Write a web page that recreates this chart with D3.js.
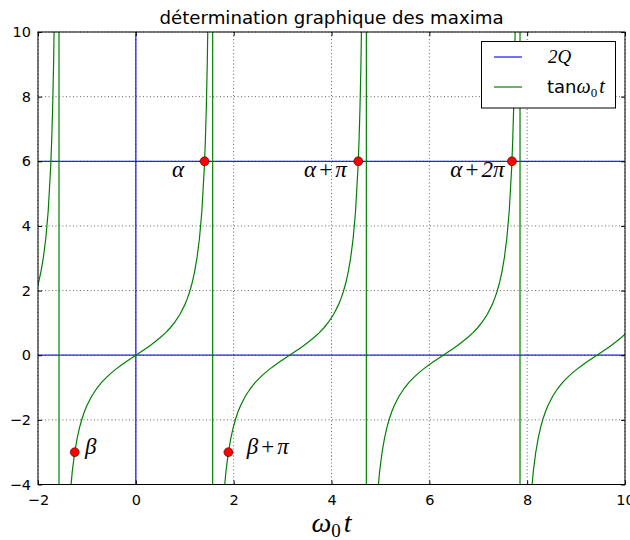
<!DOCTYPE html>
<html>
<head>
<meta charset="utf-8">
<script src="https://cdn.jsdelivr.net/npm/d3@7"></script>
<style>
  body { margin: 0; background: #fff; }
  svg { display: block; }
  .tick text { font-family: "DejaVu Sans", sans-serif; font-size: 14.5px; fill: #000; }
  .math { font-family: "Liberation Serif", "DejaVu Serif", serif; }
</style>
</head>
<body>
<svg id="chart" width="630" height="540"></svg>
<script>
// ---- data ----
var xTicks = [-2, 0, 2, 4, 6, 8, 10];
var yTicks = [-4, -2, 0, 2, 4, 6, 8, 10];

// one branch of tan, sampled around its centre (offset, value)
var branchOffset = [-1.570, -1.565, -1.56, -1.55, -1.54, -1.52, -1.50, -1.48, -1.46, -1.44, -1.42, -1.40,
  -1.35, -1.30, -1.25, -1.20, -1.15, -1.10, -1.05, -1.00, -0.90, -0.80, -0.70, -0.60, -0.50, -0.40, -0.30,
  -0.20, -0.10, 0, 0.10, 0.20, 0.30, 0.40, 0.50, 0.60, 0.70, 0.80, 0.90, 1.00, 1.05, 1.10, 1.15, 1.20,
  1.25, 1.30, 1.35, 1.40, 1.42, 1.44, 1.46, 1.48, 1.50, 1.52, 1.54, 1.55, 1.56, 1.565, 1.570];
var branchValue = [-1255.8, -172.52, -92.62, -48.08, -32.46, -19.67, -14.10, -10.98, -8.989, -7.602, -6.581, -5.798,
  -4.455, -3.602, -3.010, -2.572, -2.234, -1.965, -1.743, -1.557, -1.260, -1.030, -0.842, -0.684, -0.546, -0.423, -0.309,
  -0.203, -0.100, 0, 0.100, 0.203, 0.309, 0.423, 0.546, 0.684, 0.842, 1.030, 1.260, 1.557, 1.743, 1.965, 2.234, 2.572,
  3.010, 3.602, 4.455, 5.798, 6.581, 7.602, 8.989, 10.98, 14.10, 19.67, 32.46, 48.08, 92.62, 172.52, 1255.8];
var branchCentre = [-3.1416, 0, 3.1416, 6.2832, 9.4248];

var level2Q = 6;
var crossX = [1.4056, 4.5472, 7.6888, -1.2490, 1.8925];
var crossY = [6, 6, 6, -3, -3];

var labelText = [["α"], ["α", "+", "π"], ["α", "+", "2π"], ["β"], ["β", "+", "π"]];
var labelX = [0.74, 3.44, 6.43, -1.04, 2.27];
var labelY = [5.52, 5.52, 5.52, -3.05, -3.05];

// ---- layout ----
var svg = d3.select("#chart");
var x = d3.scaleLinear().domain([-2, 10]).range([38, 625]);
var y = d3.scaleLinear().domain([-4, 10]).range([484.5, 32]);

svg.append("defs").append("clipPath").attr("id", "plotclip")
  .append("rect")
    .attr("x", x(-2)).attr("y", y(10))
    .attr("width", x(10) - x(-2)).attr("height", y(-4) - y(10));

// grid
var grid = svg.append("g").attr("stroke", "#000").attr("stroke-width", 0.6).attr("stroke-dasharray", "1,2.5");
grid.selectAll(".gx").data(xTicks).enter().append("line")
  .attr("x1", function(d) { return x(d); }).attr("x2", function(d) { return x(d); })
  .attr("y1", y(-4)).attr("y2", y(10));
grid.selectAll(".gy").data(yTicks).enter().append("line")
  .attr("y1", function(d) { return y(d); }).attr("y2", function(d) { return y(d); })
  .attr("x1", x(-2)).attr("x2", x(10));

var plot = svg.append("g").attr("clip-path", "url(#plotclip)");

// blue lines: 2Q, y=0, x=0
var blue = plot.append("g").attr("stroke", "#0000ff").attr("stroke-width", 1.3).attr("stroke-opacity", 0.85);
blue.append("line").attr("x1", x(-2)).attr("x2", x(10)).attr("y1", y(level2Q)).attr("y2", y(level2Q));
blue.append("line").attr("x1", x(-2)).attr("x2", x(10)).attr("y1", y(0)).attr("y2", y(0));
blue.append("line").attr("x1", x(0)).attr("x2", x(0)).attr("y1", y(-4)).attr("y2", y(10));

// tan curve, all branches joined like a sampled line
var tanPoints = [];
branchCentre.forEach(function(c) {
  branchOffset.forEach(function(o, i) { tanPoints.push([c + o, branchValue[i]]); });
});
var line = d3.line().x(function(d) { return x(d[0]); }).y(function(d) { return y(d[1]); });
plot.append("path").datum(tanPoints)
  .attr("d", line).attr("fill", "none").attr("stroke", "#008000").attr("stroke-width", 1.2);

// red points
svg.selectAll(".pt").data(crossX).enter().append("circle")
  .attr("cx", function(d) { return x(d); })
  .attr("cy", function(d, i) { return y(crossY[i]); })
  .attr("r", 4.5).attr("fill", "#ff0000").attr("stroke", "#000").attr("stroke-width", 0.5);

// labels
labelText.forEach(function(parts, i) {
  var t = svg.append("text").attr("class", "math")
    .attr("x", x(labelX[i])).attr("y", y(labelY[i]))
    .attr("font-size", 23).attr("fill", "#000");
  parts.forEach(function(p, j) {
    t.append("tspan").attr("font-style", p === "+" ? "normal" : "italic")
      .attr("dx", j > 0 ? 3 : 0)
      .text(p);
  });
});

// axes, ticks inside on all four sides
function styleAxis(g) {
  g.select(".domain").remove();
  g.selectAll(".tick line").attr("stroke", "#000").attr("stroke-width", 1);
}
svg.append("g").attr("transform", "translate(0," + y(-4) + ")")
  .call(d3.axisBottom(x).tickValues(xTicks).tickSize(-4).tickPadding(10).tickFormat(d3.format("d")))
  .call(styleAxis);
svg.append("g").attr("transform", "translate(0," + y(10) + ")")
  .call(d3.axisTop(x).tickValues(xTicks).tickSize(-4).tickFormat(""))
  .call(styleAxis);
svg.append("g").attr("transform", "translate(" + x(-2) + ",0)")
  .call(d3.axisLeft(y).tickValues(yTicks).tickSize(-4).tickPadding(7).tickFormat(d3.format("d")))
  .call(styleAxis);
svg.append("g").attr("transform", "translate(" + x(10) + ",0)")
  .call(d3.axisRight(y).tickValues(yTicks).tickSize(-4).tickFormat(""))
  .call(styleAxis);

svg.append("rect")
  .attr("x", x(-2)).attr("y", y(10))
  .attr("width", x(10) - x(-2)).attr("height", y(-4) - y(10))
  .attr("fill", "none").attr("stroke", "#000").attr("stroke-width", 1);

// title
svg.append("text")
  .attr("x", (x(-2) + x(10)) / 2).attr("y", 24)
  .attr("text-anchor", "middle")
  .attr("font-family", "DejaVu Sans, sans-serif").attr("font-size", 18.2)
  .text("détermination graphique des maxima");

// x label
var xl = svg.append("text").attr("class", "math")
  .attr("x", (x(-2) + x(10)) / 2).attr("y", 532)
  .attr("text-anchor", "middle").attr("font-size", 28);
xl.append("tspan").attr("font-style", "italic").text("ω");
xl.append("tspan").attr("font-size", 19).attr("dy", 5).text("0");
xl.append("tspan").attr("font-style", "italic").attr("dy", -5).attr("dx", 3).text("t");

// legend
var leg = svg.append("g");
leg.append("rect").attr("x", 481.5).attr("y", 41.5).attr("width", 134).attr("height", 66.5)
  .attr("fill", "#fff").attr("stroke", "#000").attr("stroke-width", 1);
leg.append("line").attr("x1", 494).attr("x2", 522).attr("y1", 57).attr("y2", 57)
  .attr("stroke", "#0000ff").attr("stroke-width", 1.3).attr("stroke-opacity", 0.85);
leg.append("line").attr("x1", 494).attr("x2", 522).attr("y1", 87).attr("y2", 87)
  .attr("stroke", "#008000").attr("stroke-width", 1.2);
leg.append("text").attr("class", "math").attr("x", 548).attr("y", 63)
  .attr("font-size", 19).attr("font-style", "italic").text("2Q");
var lt = leg.append("text").attr("x", 547).attr("y", 93).attr("font-size", 18);
lt.append("tspan").attr("font-family", "DejaVu Sans, sans-serif").text("tan");
lt.append("tspan").attr("class", "math").attr("font-style", "italic").attr("font-size", 20).text("ω");
lt.append("tspan").attr("class", "math").attr("font-size", 13).attr("dy", 4).text("0");
lt.append("tspan").attr("class", "math").attr("font-style", "italic").attr("font-size", 20).attr("dy", -4).attr("dx", 2).text("t");
</script>
</body>
</html>
